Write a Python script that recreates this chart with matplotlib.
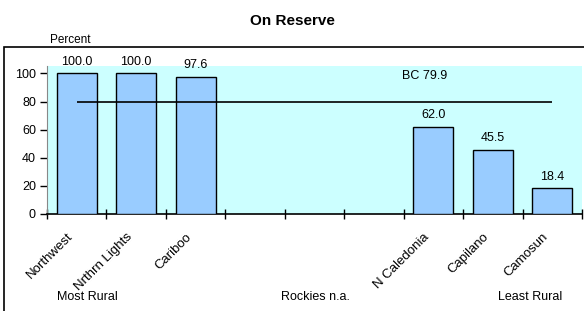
import numpy as np
import matplotlib
matplotlib.use('Agg')
import matplotlib.pyplot as plt
from matplotlib.patches import Rectangle

plt.rcParams['font.family'] = ['Liberation Sans', 'DejaVu Sans']

# data
regions = ['Northwest', 'Nrthrn Lights', 'Cariboo', '', '', '',
           'N Caledonia', 'Capilano', 'Camosun']
percent = [100.0, 100.0, 97.6, np.nan, np.nan, np.nan, 62.0, 45.5, 18.4]
bc_value = 79.9
yticks = [0, 20, 40, 60, 80, 100]

fig = plt.figure(figsize=(5.84, 3.11), dpi=100)
W, H = 584, 311

# outer frame (chart area border)
fig.patches.append(Rectangle((4 / W, -0.05), 1.2, 1 - 47 / H + 0.05,
                             transform=fig.transFigure, fill=False,
                             edgecolor='black', linewidth=1.2))

ax = fig.add_axes([47 / W, 1 - 214 / H, 535 / W, (214 - 65.7) / H])
ax.set_facecolor('#CCFFFF')

x = np.arange(len(regions))
bars = ax.bar(x, percent, width=0.67, color='#99CCFF', edgecolor='black',
              linewidth=1.0, zorder=3)

for xi, v in zip(x, percent):
    if not np.isnan(v):
        ax.annotate(f'{v:.1f}', (xi, v), xytext=(0, 4), textcoords='offset points',
                    ha='center', va='bottom', fontsize=9, zorder=4,
                    annotation_clip=False)

# BC average line
ax.hlines(bc_value, 0, 8, colors='black', linewidth=1.2, zorder=4)
ax.text(5.85, 98.5, f'BC {bc_value}', ha='center', va='center', fontsize=9)

ax.set_xlim(-0.5, len(regions) - 0.5)
ax.set_ylim(0, 105.5)
ax.set_yticks(yticks)
ax.set_yticklabels([str(t) for t in yticks], fontsize=9)
ax.set_xticks(np.arange(len(regions) + 1) - 0.5)
ax.set_xticklabels([])
ax.tick_params(axis='x', direction='inout', length=7, width=1)
ax.tick_params(axis='y', direction='out', length=5, width=1, pad=3)

for xi, name in zip(x, regions):
    ax.text(xi - 0.1, -15, name, rotation=45, rotation_mode='anchor',
            ha='right', va='center', fontsize=9.5,
            transform=ax.transData, clip_on=False)

for s in ['top', 'right']:
    ax.spines[s].set_visible(False)
ax.spines['left'].set_color('#888888')
ax.spines['bottom'].set_linewidth(1.2)

fig.text(292 / W, 1 - 21 / H, 'On Reserve', ha='center', va='center',
         fontsize=11, fontweight='bold')
fig.text(70 / W, 1 - 40 / H, 'Percent', ha='center', va='center', fontsize=8.5)
fig.text(87 / W, 1 - 297 / H, 'Most Rural', ha='center', va='center', fontsize=9)
fig.text(315 / W, 1 - 297 / H, 'Rockies n.a.', ha='center', va='center', fontsize=9)
fig.text(530 / W, 1 - 297 / H, 'Least Rural', ha='center', va='center', fontsize=9)

fig.savefig('out.png', dpi=100)
